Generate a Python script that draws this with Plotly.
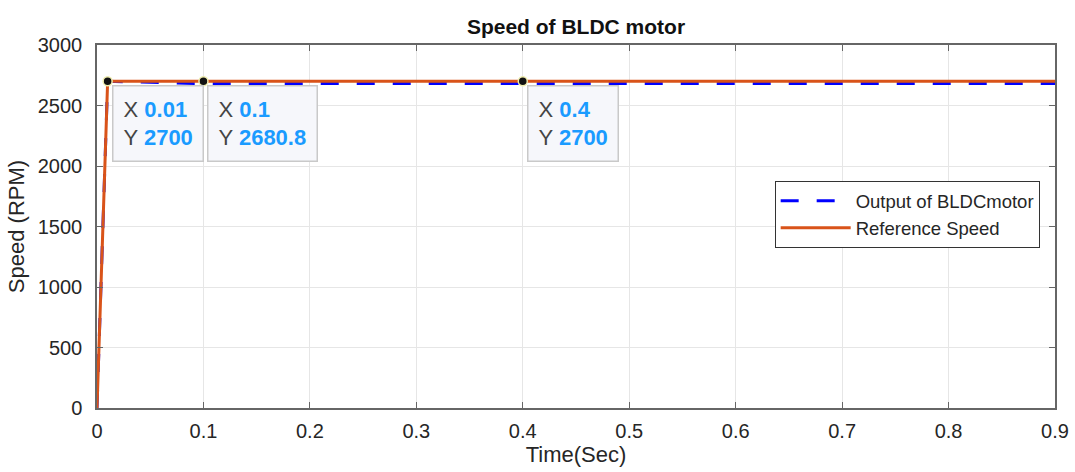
import plotly.graph_objects as go

# Data
time_ref = [0, 0.01, 0.9]
speed_ref = [0, 2700, 2700]
time_out = [0, 0.01, 0.1, 0.9]
speed_out = [0, 2700, 2680.8, 2680.8]

tip_x = [0.01, 0.1, 0.4]
tip_y = [2700, 2680.8, 2700]
tip_y_marker = [2700, 2700, 2700]

x_ticks = [0, 0.1, 0.2, 0.3, 0.4, 0.5, 0.6, 0.7, 0.8, 0.9]
y_ticks = [0, 500, 1000, 1500, 2000, 2500, 3000]

FONT = "Liberation Sans, Arial, sans-serif"
W, H = 1075, 472

fig = go.Figure()
fig.add_trace(go.Scatter(x=time_out, y=speed_out, mode="lines", name="Output of BLDCmotor",
                         line=dict(color="#0000ff", width=3, dash="18px,18px")))
fig.add_trace(go.Scatter(x=time_ref, y=speed_ref, mode="lines", name="Reference Speed",
                         line=dict(color="#d95319", width=3)))
fig.add_trace(go.Scatter(x=tip_x, y=tip_y_marker, mode="markers", showlegend=False,
                         marker=dict(color="#111111", size=9, line=dict(color="#f0eeb0", width=1.5))))

for xv, yv in zip(tip_x, tip_y):
    txt = ("<span style='color:#444'>X</span> <b><span style='color:#1a9bff'>%g</span></b><br>"
           "<span style='color:#444'>Y</span> <b><span style='color:#1a9bff'>%g</span></b>") % (xv, yv)
    fig.add_annotation(x=xv, y=2700, xref="x", yref="y", text=txt, showarrow=False,
                       xanchor="left", yanchor="top", align="left", xshift=4, yshift=-4,
                       font=dict(family=FONT, size=22, color="#444"),
                       bgcolor="#f6f7fb", bordercolor="#c9c9c9", borderwidth=1.5, borderpad=10)

fig.update_layout(
    width=W, height=H,
    margin=dict(l=97, r=20, t=45, b=64),
    paper_bgcolor="white", plot_bgcolor="white",
    title=dict(text="<b>Speed of BLDC motor</b>", x=0.5, xref="paper",
               y=1 - 27 / H, yref="container", yanchor="middle",
               font=dict(family=FONT, size=21, color="#111")),
    font=dict(family=FONT, size=20, color="#262626"),
    legend=dict(x=0.984, y=0.625, xanchor="right", yanchor="top",
                bgcolor="white", bordercolor="#333", borderwidth=1,
                font=dict(family=FONT, size=18.5, color="#262626"),
                tracegroupgap=0, itemwidth=70),
    showlegend=True,
)
fig.update_xaxes(range=[0, 0.9], tickvals=x_ticks, ticktext=["%g" % t for t in x_ticks],
                 automargin=False,
                 showgrid=True, gridcolor="#e6e6e6", gridwidth=1,
                 showline=True, linecolor="#666", linewidth=1.5, mirror="ticks",
                 ticks="inside", ticklen=6, tickcolor="#666", zeroline=False,
                 ticklabelstandoff=4,
                 title=dict(text="Time(Sec)", font=dict(family=FONT, size=22, color="#262626"), standoff=4))
fig.update_yaxes(range=[0, 3000], tickvals=y_ticks,
                 automargin=False,
                 showgrid=True, gridcolor="#e6e6e6", gridwidth=1,
                 showline=True, linecolor="#666", linewidth=1.5, mirror="ticks",
                 ticks="inside", ticklen=6, tickcolor="#666", zeroline=False,
                 ticklabelstandoff=9,
                 title=dict(text="Speed (RPM)", font=dict(family=FONT, size=22, color="#262626"), standoff=7))

post = ("document.documentElement.style.margin='0';document.body.style.margin='0';"
        "document.documentElement.style.overflow='hidden';document.body.style.overflow='hidden';"
        "var d=document.getElementById('{plot_id}');d.style.position='fixed';d.style.left='0px';d.style.top='0px';")
fig.write_html("out.html", config={"displayModeBar": False}, post_script=post)
